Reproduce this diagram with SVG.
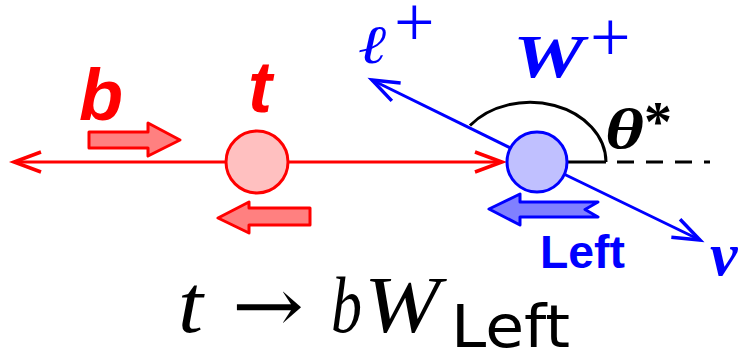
<svg xmlns="http://www.w3.org/2000/svg" width="744" height="351" viewBox="0 0 744 351">
<defs>
<style>
.red{stroke:#ff0000;stroke-width:3;fill:none}
.blue{stroke:#0000ff;stroke-width:3;fill:none}
.blk{stroke:#000;stroke-width:3;fill:none}
.sans{font-family:"Liberation Sans",Arial,sans-serif}
.serif{font-family:"Liberation Serif","DejaVu Serif",serif}
.redt{fill:#ff0000}
.bluet{fill:#0000ff}
.blockred{fill:#ff8080;stroke:#ff0000;stroke-width:3;stroke-linejoin:round}
.blockblue{fill:#8080ff;stroke:#0000ff;stroke-width:3;stroke-linejoin:round}
</style>
<marker id="ahr" markerUnits="userSpaceOnUse" markerWidth="40" markerHeight="30" viewBox="-32 -15 40 30" refX="0" refY="0" orient="auto" overflow="visible">
<path d="M-27,-10 L0,0 L-27,10" fill="none" stroke="#ff0000" stroke-width="3.5"/>
</marker>
<marker id="ahb" markerUnits="userSpaceOnUse" markerWidth="40" markerHeight="30" viewBox="-32 -15 40 30" refX="0" refY="0" orient="auto" overflow="visible">
<path d="M-27,-10 L0,0 L-27,10" fill="none" stroke="#0000ff" stroke-width="3.5"/>
</marker>
</defs>
<rect width="744" height="351" fill="#fff"/>
<g id="connectors">
<line class="red" x1="257" y1="162" x2="14" y2="162" marker-end="url(#ahr)"/>
<line class="red" x1="257" y1="162" x2="502" y2="162" marker-end="url(#ahr)"/>
<line class="blue" x1="537" y1="161" x2="372" y2="80" marker-end="url(#ahb)"/>
<line class="blue" x1="537" y1="161" x2="700" y2="240" marker-end="url(#ahb)"/>
<path class="blk" d="M470,125.5 A76,60 0 0 1 606,162"/>
<line class="blk" x1="567" y1="162" x2="606" y2="162"/>
<line class="blk" x1="617" y1="162" x2="710" y2="162" stroke-dasharray="17 12"/>
</g>
<g id="spin-arrows">
<polygon class="blockred" points="89,132 148,132 148,123 180,140 148,156 148,148 89,148"/>
<polygon class="blockred" points="218,218 249,202 249,208 310,208 310,225 249,225 249,233"/>
<polygon class="blockblue" points="489,209 520,194 520,202 598,202 585,209.5 598,217 520,217 520,225"/>
</g>
<g id="node-t">
<circle cx="257" cy="162" r="31" fill="#ffc0c0" stroke="#ff0000" stroke-width="3"/>
<text class="sans redt" x="248" y="112" font-size="72" font-weight="bold" font-style="italic">t</text>
</g>
<g id="node-b">
<text class="sans redt" x="79" y="120" font-size="72" font-weight="bold" font-style="italic">b</text>
</g>
<g id="node-W">
<circle cx="537" cy="162" r="30" fill="#c0c0ff" stroke="#0000ff" stroke-width="3"/>
<text class="serif bluet" x="513" y="77" font-size="62" font-weight="bold" font-style="italic" textLength="71" lengthAdjust="spacingAndGlyphs">W</text>
<text class="serif bluet" x="590" y="61" font-size="72">+</text>
</g>
<g id="node-lepton">
<text class="serif bluet" x="359" y="63" font-size="54" font-weight="bold" font-style="italic" textLength="29" lengthAdjust="spacingAndGlyphs">ℓ</text>
<text class="serif bluet" x="394" y="46" font-size="72">+</text>
</g>
<g id="node-nu">
<text class="serif bluet" x="710" y="275" font-size="62" font-weight="bold" font-style="italic">ν</text>
</g>
<g id="angle-label">
<text class="serif" x="605" y="148" font-size="58" font-weight="bold" font-style="italic" textLength="39" lengthAdjust="spacingAndGlyphs">θ</text>
<text class="serif" x="644" y="141" font-size="56" font-weight="bold">*</text>
</g>
<g id="label-left">
<text class="sans bluet" x="540" y="268" font-size="46" font-weight="bold" textLength="85" lengthAdjust="spacingAndGlyphs">Left</text>
</g>
<g id="formula">
<text class="serif" x="178" y="332" font-size="82" font-style="italic" textLength="25" lengthAdjust="spacingAndGlyphs">t</text>
<text x="232" y="332" font-size="76" style="font-family:'DejaVu Serif',serif" textLength="72" lengthAdjust="spacingAndGlyphs">→</text>
<text class="serif" x="331" y="332" font-size="80" font-style="italic" textLength="31" lengthAdjust="spacingAndGlyphs">b</text>
<text class="serif" x="364" y="332" font-size="80" font-style="italic" textLength="76" lengthAdjust="spacingAndGlyphs">W</text>
<text x="451" y="347" font-size="59" style="font-family:'DejaVu Sans',sans-serif" textLength="119" lengthAdjust="spacingAndGlyphs">Left</text>
</g>
</svg>
